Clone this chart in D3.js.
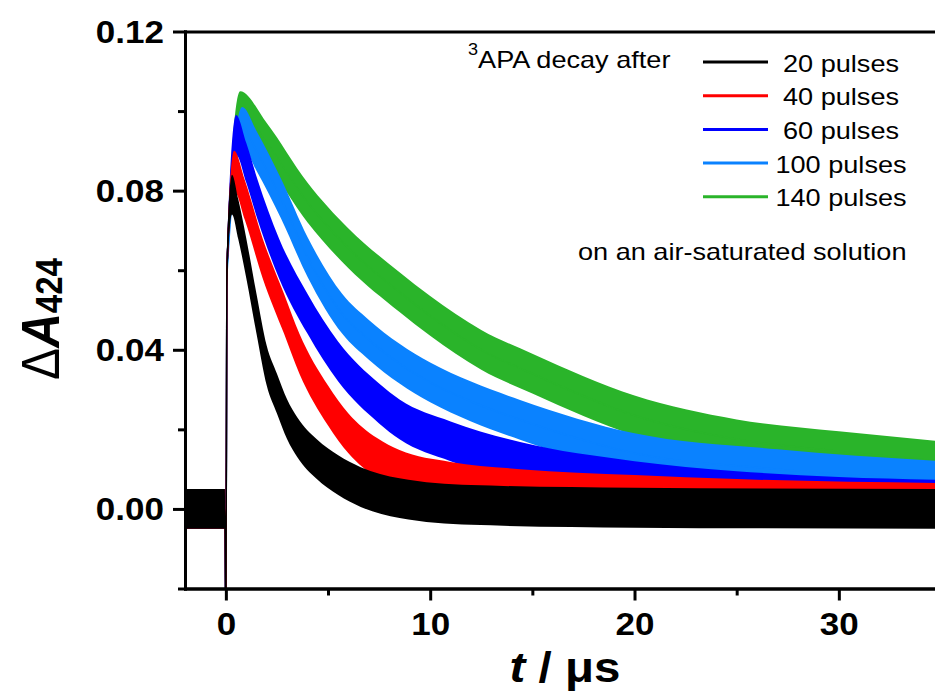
<!DOCTYPE html>
<html lang="en">
<head>
<meta charset="utf-8">
<title>3APA decay</title>
<script src="https://cdn.jsdelivr.net/npm/d3@7"></script>
<style>
  body { margin: 0; background: #fff; }
  text { font-family: "Liberation Sans", Arial, sans-serif; fill: #000; }
</style>
</head>
<body>
<script>
// values (t in microseconds, dA at 424 nm)
var t20  = [-2, -0.05, 0, 0.05, 0.3, 0.6, 1, 1.5, 2, 2.5, 3, 3.5, 4.45, 5.5, 6.6, 8.5, 12, 20, 35];
var v20  = [0, 0, -0.03, 0.06, 0.079, 0.073, 0.063, 0.049, 0.036, 0.029, 0.0225, 0.018, 0.0125, 0.0085, 0.0055, 0.0027, 0.001, 0.0003, 0];
var t40  = [-2, -0.05, 0, 0.05, 0.4, 0.93, 1.8, 2.85, 3.6, 5, 6, 7.4, 8.5, 11, 14.4, 20, 25, 35];
var v40  = [0, 0, -0.03, 0.06, 0.085, 0.0776, 0.063, 0.049, 0.039, 0.026, 0.019, 0.0128, 0.0098, 0.0068, 0.005, 0.0035, 0.0025, 0.0015];
var t60  = [-2, -0.05, 0, 0.05, 0.5, 1, 1.56, 2.6, 4, 5.5, 7.5, 8.5, 11, 14.4, 20, 25, 30, 35];
var v60  = [0, 0, -0.03, 0.06, 0.094, 0.087, 0.0776, 0.063, 0.049, 0.037, 0.0265, 0.0225, 0.017, 0.0118, 0.007, 0.0045, 0.003, 0.0023];
var t100 = [-2, -0.05, 0, 0.05, 0.8, 1.5, 2.7, 4, 5.7, 7, 8.5, 10, 12, 14.4, 20, 27, 35];
var v100 = [0, 0, -0.03, 0.06, 0.096, 0.09, 0.078, 0.0633, 0.049, 0.0425, 0.0365, 0.0318, 0.027, 0.0224, 0.014, 0.010, 0.007];
var t140 = [-2, -0.05, 0, 0.05, 0.7, 2, 4, 6, 8.5, 10, 12.5, 15, 20, 25, 30, 35];
var v140 = [0, 0, -0.03, 0.06, 0.100, 0.092, 0.077, 0.0655, 0.0545, 0.0485, 0.040, 0.034, 0.0235, 0.0175, 0.0145, 0.012];

// half width of the noise band of each trace
var noise = [0.005, 0.005, 0.005, 0.005, 0.005];

var labels = ["20 pulses", "40 pulses", "60 pulses", "100 pulses", "140 pulses"];
var colors = ["#000000", "#ff0000", "#0000ff", "#0a82ff", "#2ab42a"];
var times  = [t20, t40, t60, t100, t140];
var values = [v20, v40, v60, v100, v140];

var yMajor = [0.00, 0.04, 0.08, 0.12];
var yMinor = [-0.02, 0.02, 0.06, 0.10];
var xMajor = [0, 10, 20, 30];
var xMinor = [5, 15, 25];

var w = 935, h = 691;
var sx = 1.13; // the picture is a bit wider than tall, text too

var svg = d3.select("body").append("svg")
  .attr("width", w)
  .attr("height", h);

var x = d3.scaleLinear().domain([-2, 35]).range([185, 941]);
var y = d3.scaleLinear().domain([-0.02, 0.12]).range([588.5, 31.5]);

var series = labels.map(function (l, i) {
  return {
    label: l, color: colors[i], n: noise[i],
    pts: times[i].map(function (t, j) { return { t: t, v: values[i][j] }; })
  };
});

svg.append("clipPath").attr("id", "plot")
  .append("rect")
  .attr("x", x.range()[0]).attr("y", y.range()[1])
  .attr("width", x.range()[1] - x.range()[0])
  .attr("height", y.range()[0] - y.range()[1]);

var traces = svg.append("g").attr("clip-path", "url(#plot)");

// green at the back, black in front
series.slice().reverse().forEach(function (s) {
  var band = d3.area()
    .x(function (d) { return x(d.t); })
    .y0(function (d) { return y(d.v - s.n); })
    .y1(function (d) { return y(d.v + s.n); })
    .curve(d3.curveMonotoneX);
  traces.append("path")
    .datum(s.pts)
    .attr("d", band)
    .attr("fill", s.color);
  var line = d3.line()
    .x(function (d) { return x(d.t); })
    .y(function (d) { return y(d.v); })
    .curve(d3.curveMonotoneX);
  traces.append("path")
    .datum(s.pts)
    .attr("d", line)
    .attr("fill", "none")
    .attr("stroke", s.color)
    .attr("stroke-width", 1.5);
});

// axes
function styleAxis(g) {
  g.selectAll("path, line").attr("stroke", "#000").attr("stroke-width", 3);
}

var yMinorAxis = svg.append("g")
  .attr("transform", "translate(" + x.range()[0] + ",0)")
  .call(d3.axisLeft(y).tickValues(yMinor).tickSize(7).tickSizeOuter(0).tickFormat(""));
styleAxis(yMinorAxis);

var yAxis = svg.append("g")
  .attr("transform", "translate(" + x.range()[0] + ",0)")
  .call(d3.axisLeft(y).tickValues(yMajor).tickSize(12).tickSizeOuter(0).tickFormat(d3.format(".2f")));
styleAxis(yAxis);
yAxis.selectAll("text")
  .attr("x", -21 / sx)
  .attr("dy", "0.35em")
  .attr("transform", "scale(" + sx + ",1)")
  .style("font-size", "31px")
  .style("font-weight", "bold");

var xMinorAxis = svg.append("g")
  .attr("transform", "translate(0," + y.range()[0] + ")")
  .call(d3.axisBottom(x).tickValues(xMinor).tickSize(7).tickSizeOuter(0).tickFormat(""));
styleAxis(xMinorAxis);

var xAxis = svg.append("g")
  .attr("transform", "translate(0," + y.range()[0] + ")")
  .call(d3.axisBottom(x).tickValues(xMajor).tickSize(12).tickSizeOuter(0).tickFormat(d3.format("d")));
styleAxis(xAxis);
xAxis.selectAll("text")
  .attr("y", 46.5)
  .attr("dy", 0)
  .attr("transform", "scale(" + sx + ",1)")
  .style("font-size", "31px")
  .style("font-weight", "bold");

var topAxis = svg.append("g")
  .attr("transform", "translate(0," + y.range()[1] + ")")
  .call(d3.axisTop(x).tickValues([]).tickSizeOuter(0));
styleAxis(topAxis);

svg.selectAll(".domain").attr("stroke-linecap", "square");

// axis titles
function stretched(px, py, anchor, extra) {
  return svg.append("text")
    .attr("transform", "translate(" + px + "," + py + ") scale(" + sx + ",1)" + (extra || ""))
    .attr("text-anchor", anchor);
}

var xt = stretched(565, 682, "middle").style("font-size", "42px").style("font-weight", "bold");
xt.append("tspan").style("font-style", "italic").text("t");
xt.append("tspan").text(" / \u03bcs");

var yt = stretched(59, 319, "middle", " rotate(-90)");
yt.append("tspan").style("font-size", "48px").text("\u0394");
yt.append("tspan").style("font-size", "48px").style("font-weight", "bold").style("font-style", "italic").text("A");
yt.append("tspan").attr("dy", 3).style("font-size", "33px").style("font-weight", "bold").text("424");

// legend
var head = stretched(468, 68, "start").style("font-size", "24px");
head.append("tspan").attr("dy", -13).style("font-size", "16px").text("3");
head.append("tspan").attr("dy", 13).text("APA decay after");

var leg = svg.append("g");
series.forEach(function (s, i) {
  var ly = 62 + 33.7 * i;
  leg.append("line")
    .attr("x1", 703).attr("x2", 768)
    .attr("y1", ly).attr("y2", ly)
    .attr("stroke", s.color)
    .attr("stroke-width", 3);
  stretched(841, ly + 9.5, "middle").style("font-size", "24px").text(s.label);
});

stretched(578, 260, "start").style("font-size", "24px").text("on an air-saturated solution");
</script>
</body>
</html>
